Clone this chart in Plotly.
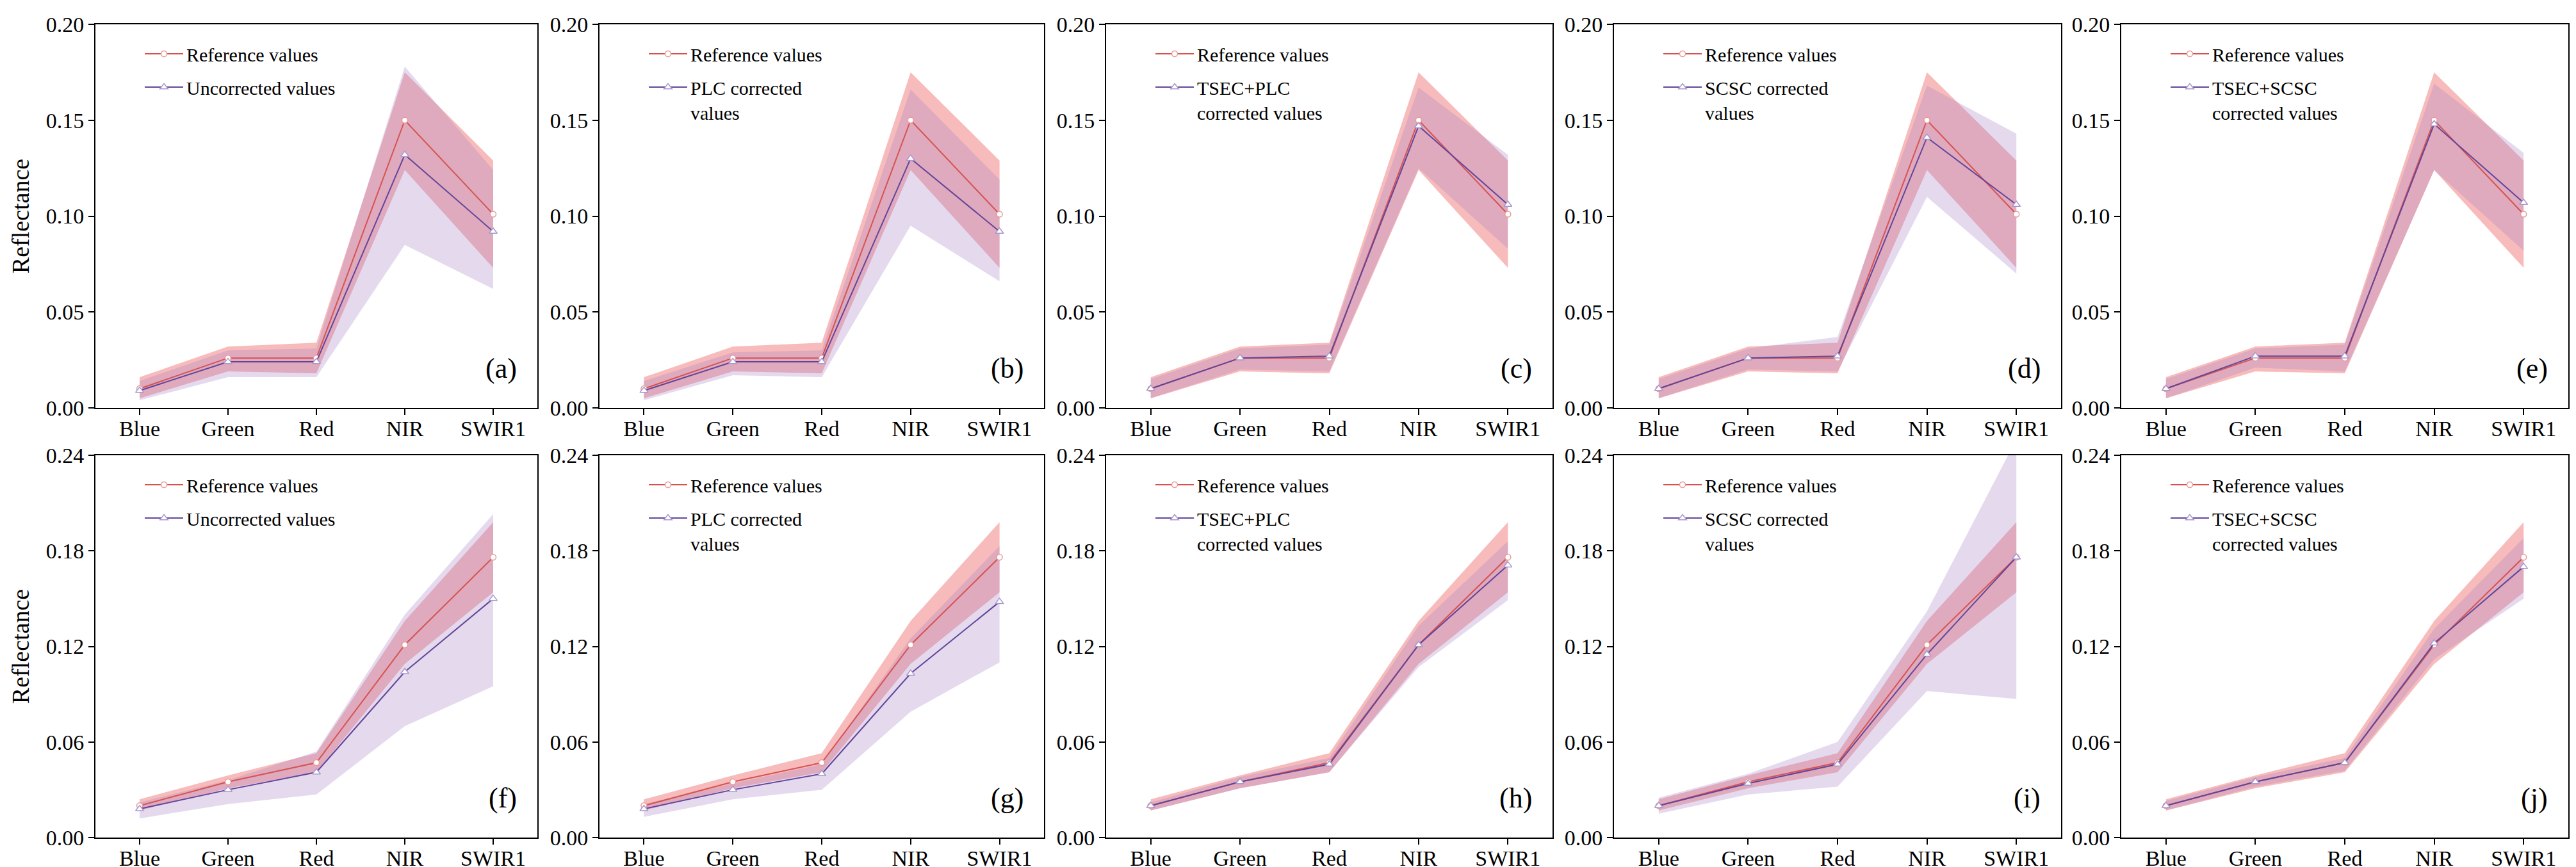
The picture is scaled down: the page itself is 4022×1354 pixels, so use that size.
import plotly.graph_objects as go
from plotly.subplots import make_subplots

# spectral bands on the x axis
bands = ["Blue", "Green", "Red", "NIR", "SWIR1"]

# top row: reference values (mean, upper, lower)
ref_top = [0.010, 0.026, 0.026, 0.150, 0.101]
ref_top_hi = [0.016, 0.032, 0.034, 0.175, 0.129]
ref_top_lo = [0.005, 0.019, 0.018, 0.124, 0.073]

uncorr_top = [0.009, 0.024, 0.024, 0.132, 0.092]
uncorr_top_hi = [0.014, 0.030, 0.031, 0.178, 0.124]
uncorr_top_lo = [0.004, 0.016, 0.016, 0.085, 0.062]

plc_top = [0.009, 0.024, 0.024, 0.130, 0.092]
plc_top_hi = [0.014, 0.029, 0.030, 0.166, 0.119]
plc_top_lo = [0.004, 0.017, 0.016, 0.095, 0.066]

tsec_plc_top = [0.010, 0.026, 0.027, 0.147, 0.106]
tsec_plc_top_hi = [0.015, 0.031, 0.033, 0.167, 0.132]
tsec_plc_top_lo = [0.005, 0.020, 0.019, 0.125, 0.083]

scsc_top = [0.010, 0.026, 0.027, 0.141, 0.106]
scsc_top_hi = [0.015, 0.031, 0.037, 0.168, 0.143]
scsc_top_lo = [0.005, 0.020, 0.019, 0.110, 0.070]

tsec_scsc_top = [0.010, 0.027, 0.027, 0.148, 0.107]
tsec_scsc_top_hi = [0.015, 0.031, 0.033, 0.169, 0.133]
tsec_scsc_top_lo = [0.005, 0.021, 0.019, 0.124, 0.082]

# bottom row
ref_bot = [0.020, 0.035, 0.047, 0.121, 0.176]
ref_bot_hi = [0.024, 0.039, 0.053, 0.136, 0.198]
ref_bot_lo = [0.017, 0.031, 0.041, 0.109, 0.154]

uncorr_bot = [0.018, 0.030, 0.041, 0.104, 0.150]
uncorr_bot_hi = [0.022, 0.036, 0.054, 0.140, 0.203]
uncorr_bot_lo = [0.012, 0.021, 0.027, 0.070, 0.095]

plc_bot = [0.018, 0.030, 0.040, 0.103, 0.148]
plc_bot_hi = [0.021, 0.034, 0.046, 0.125, 0.183]
plc_bot_lo = [0.013, 0.024, 0.030, 0.079, 0.110]

tsec_plc_bot = [0.020, 0.035, 0.046, 0.121, 0.171]
tsec_plc_bot_hi = [0.022, 0.038, 0.050, 0.133, 0.186]
tsec_plc_bot_lo = [0.017, 0.031, 0.041, 0.107, 0.149]

scsc_bot = [0.020, 0.034, 0.046, 0.115, 0.176]
scsc_bot_hi = [0.025, 0.040, 0.060, 0.142, 0.250]
scsc_bot_lo = [0.015, 0.027, 0.032, 0.092, 0.087]

tsec_scsc_bot = [0.020, 0.035, 0.047, 0.122, 0.170]
tsec_scsc_bot_hi = [0.023, 0.038, 0.050, 0.131, 0.188]
tsec_scsc_bot_lo = [0.017, 0.032, 0.042, 0.112, 0.150]

method_names = ["Uncorrected values", "PLC corrected<br>values", "TSEC+PLC<br>corrected values",
                "SCSC corrected<br>values", "TSEC+SCSC<br>corrected values"]
panel_labels = ["(a)", "(b)", "(c)", "(d)", "(e)", "(f)", "(g)", "(h)", "(i)", "(j)"]

top_methods = [(uncorr_top, uncorr_top_hi, uncorr_top_lo), (plc_top, plc_top_hi, plc_top_lo),
               (tsec_plc_top, tsec_plc_top_hi, tsec_plc_top_lo), (scsc_top, scsc_top_hi, scsc_top_lo),
               (tsec_scsc_top, tsec_scsc_top_hi, tsec_scsc_top_lo)]
bot_methods = [(uncorr_bot, uncorr_bot_hi, uncorr_bot_lo), (plc_bot, plc_bot_hi, plc_bot_lo),
               (tsec_plc_bot, tsec_plc_bot_hi, tsec_plc_bot_lo), (scsc_bot, scsc_bot_hi, scsc_bot_lo),
               (tsec_scsc_bot, tsec_scsc_bot_hi, tsec_scsc_bot_lo)]

W, H = 4022, 1354
FONT = "Liberation Serif, Times New Roman, serif"
RED = "#d65350"
PURPLE = "#62459a"
RED_FILL = "rgba(240,120,120,0.5)"
PURPLE_FILL = "rgba(170,130,200,0.3)"

# pixel boxes of the panels (left, right) and rows (top, bottom)
col_px = [(141, 831), (928, 1622), (1719, 2416), (2512, 3210), (3304, 4002)]
row_px = [(30, 629), (703, 1300)]

fig = make_subplots(rows=2, cols=5)


def band(x, hi, lo, color):
    return go.Scatter(x=x + x[::-1], y=hi + lo[::-1], fill="toself", fillcolor=color,
                      line=dict(width=0), mode="lines", showlegend=False, hoverinfo="skip")


for r, (ref, ref_hi, ref_lo, methods) in enumerate([(ref_top, ref_top_hi, ref_top_lo, top_methods),
                                                      (ref_bot, ref_bot_hi, ref_bot_lo, bot_methods)]):
    for c, (vals, hi, lo) in enumerate(methods):
        idx = r * 5 + c
        leg = "legend" if idx == 0 else "legend{}".format(idx + 1)
        fig.add_trace(band(bands, ref_hi, ref_lo, RED_FILL), row=r + 1, col=c + 1)
        fig.add_trace(band(bands, hi, lo, PURPLE_FILL), row=r + 1, col=c + 1)
        fig.add_trace(go.Scatter(x=bands, y=ref, mode="lines+markers", name="Reference values",
                                 line=dict(color=RED, width=2),
                                 marker=dict(symbol="circle", size=9, color="white",
                                             line=dict(color="#e89a9a", width=1.5)),
                                 legend=leg, legendgroup="ref{}".format(idx)), row=r + 1, col=c + 1)
        fig.add_trace(go.Scatter(x=bands, y=vals, mode="lines+markers", name=method_names[c],
                                 line=dict(color=PURPLE, width=2),
                                 marker=dict(symbol="triangle-up", size=11, color="white",
                                             line=dict(color="#a898cc", width=1.5)),
                                 legend=leg, legendgroup="corr{}".format(idx)), row=r + 1, col=c + 1)

        left, right = col_px[c]
        top, bottom = row_px[r]
        fig.update_xaxes(domain=[left / W, right / W], row=r + 1, col=c + 1)
        fig.update_yaxes(domain=[1 - bottom / H, 1 - top / H], row=r + 1, col=c + 1)

        fig.add_annotation(text=panel_labels[idx], x=1, y=0, xref="x{} domain".format(idx + 1 if idx else ""),
                           yref="y{} domain".format(idx + 1 if idx else ""), xanchor="right", yanchor="middle",
                           xshift=-30, yshift=62, showarrow=False, font=dict(family=FONT, size=44, color="black"))

        fig.update_layout({leg: dict(x=(left + 72) / W, y=1 - (top + 20) / H, xanchor="left", yanchor="top",
                                     bgcolor="rgba(0,0,0,0)", valign="top", itemwidth=60, tracegroupgap=10,
                                     font=dict(family=FONT, size=30, color="black"))})

axis_style = dict(showline=True, linecolor="black", linewidth=2, mirror=True, ticks="outside",
                  ticklen=9, tickwidth=2, tickcolor="black", showgrid=False, zeroline=False,
                  tickfont=dict(family=FONT, size=34, color="black"), automargin=False)

fig.update_xaxes(**axis_style, range=[-0.5, 4.5], ticklabelstandoff=-8)
fig.update_yaxes(**axis_style, tickformat=".2f")
fig.update_yaxes(range=[0, 0.20], tickvals=[0, 0.05, 0.10, 0.15, 0.20], row=1)
fig.update_yaxes(range=[0, 0.24], tickvals=[0, 0.06, 0.12, 0.18, 0.24], row=2)
for rr in (1, 2):
    fig.update_yaxes(title=dict(text="Reflectance", standoff=14, font=dict(family=FONT, size=38, color="black")),
                     row=rr, col=1)

fig.update_layout(width=W, height=H, margin=dict(l=0, r=0, t=0, b=0),
                  plot_bgcolor="white", paper_bgcolor="white", font=dict(family=FONT, color="black"))

fig.write_html("out.html")
